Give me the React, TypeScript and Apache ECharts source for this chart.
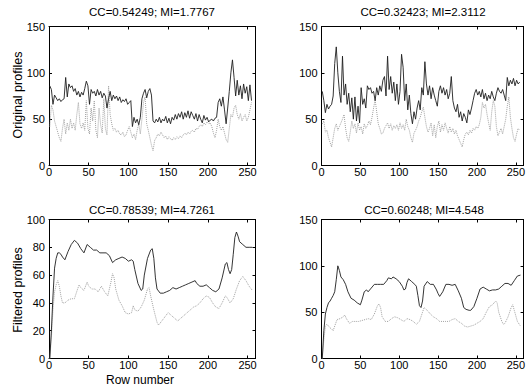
import React, { useEffect, useRef } from 'react';
import * as echarts from 'echarts';

// Row numbers for the sampled original (noisy) profiles
const rowsOdd: number[] = Array.from({ length: 128 }, (_, i) => 1 + 2 * i);

// Panel 1 (top-left) original profiles
const tlSolid = [
  86, 82, 66, 76, 73, 70, 72, 69, 71, 72, 95, 74, 88, 84, 86, 80,
  83, 76, 80, 74, 79, 76, 83, 91, 86, 66, 82, 78, 80, 75, 82, 76,
  80, 73, 78, 75, 62, 72, 80, 70, 76, 72, 75, 70, 74, 68, 71, 69,
  72, 66, 68, 70, 42, 52, 46, 50, 44, 52, 72, 78, 82, 73, 80, 83,
  76, 48, 46, 50, 47, 52, 46, 50, 48, 53, 46, 51, 45, 52, 49, 55,
  50, 56, 52, 58, 50, 57, 52, 59, 51, 58, 54, 50, 56, 48, 55, 50,
  46, 54, 49, 52, 47, 49, 50, 48, 51, 52, 68, 72, 64, 74, 60, 45,
  62, 80, 100, 114, 95, 75, 92, 76, 86, 72, 88, 78, 85, 70, 87, 70,
];
const tlDotted = [
  42, 65, 60, 48, 42, 36, 30, 26, 40, 50, 34, 46, 38, 50, 40, 46,
  38, 55, 68, 45, 40, 46, 38, 70, 40, 34, 62, 48, 70, 38, 30, 62,
  44, 35, 72, 40, 33, 86, 55, 45, 38, 40, 36, 38, 34, 33, 36, 31,
  33, 38, 42, 36, 30, 34, 28, 38, 45, 34, 50, 68, 74, 45, 38, 30,
  22, 16, 27, 30, 34, 32, 36, 33, 30, 32, 28, 31, 29, 27, 30, 28,
  31, 29, 32, 30, 33, 35, 33, 36, 34, 37, 38, 36, 40, 39, 42, 44,
  42, 46, 44, 47, 45, 46, 42, 35, 30, 38, 50, 42, 38, 42, 35, 28,
  25, 40, 55, 52, 62, 65, 55, 50, 56, 48, 52, 55, 48, 52, 60, 68,
];

// Panel 2 (top-right) original profiles
const trSolid = [
  80, 70, 57, 66, 61, 64, 66, 75, 110, 128, 100, 80, 68, 118, 76, 88,
  66, 78, 58, 73, 50, 74, 48, 64, 46, 84, 66, 72, 62, 86, 82, 84,
  78, 80, 70, 84, 76, 86, 80, 92, 96, 75, 118, 82, 96, 78, 90, 70,
  88, 66, 80, 120, 106, 70, 88, 60, 76, 56, 45, 58, 50, 62, 70, 60,
  84, 76, 112, 88, 76, 86, 72, 84, 76, 70, 64, 80, 86, 78, 84, 76,
  82, 72, 78, 96, 70, 62, 58, 66, 52, 58, 48, 56, 52, 46, 60, 55,
  62, 70, 78, 82, 76, 80, 74, 82, 72, 78, 70, 76, 72, 80, 74, 70,
  78, 84, 80, 78, 82, 76, 70, 95, 86, 92, 88, 94, 86, 92, 88, 90,
];
const trDotted = [
  45, 48, 36, 38, 30, 25, 20, 30, 40, 45, 38, 42, 46, 50, 55, 40,
  30, 26, 36, 48, 40, 45, 35, 46, 38, 42, 34, 45, 40, 43, 48, 44,
  52, 62, 71, 58, 45, 40, 34, 35, 40, 43, 46, 40, 45, 38, 43, 40,
  44, 38, 46, 40, 44, 38, 50, 42, 38, 30, 25, 35, 38, 42, 48, 52,
  58, 63, 52, 42, 36, 40, 46, 32, 44, 30, 42, 48, 36, 44, 38, 46,
  40, 35, 42, 36, 40, 34, 38, 32, 28, 24, 20, 28, 34, 36, 33, 38,
  35, 40, 38, 42, 40, 44, 52, 68, 62, 66, 55, 46, 38, 58, 70, 64,
  42, 32, 36, 40, 34, 42, 50, 64, 74, 52, 40, 30, 26, 34, 40, 38,
];

// Panel 3 (bottom-left) filtered profiles
const blSolidX = [1, 3, 5, 7, 9, 11, 13, 15, 17, 20, 24, 28, 32, 36, 40, 44, 48, 52, 56, 60, 64, 68, 72, 76, 80, 84, 88, 92, 96, 100, 104, 106, 108, 112, 116, 118, 120, 124, 128, 130, 132, 134, 136, 140, 144, 148, 152, 156, 160, 164, 168, 172, 176, 180, 184, 186, 190, 194, 198, 202, 206, 210, 214, 218, 222, 224, 226, 228, 230, 232, 234, 236, 238, 240, 244, 248, 252, 256];
const blSolidY = [0, 20, 45, 65, 72, 76, 76, 75, 73, 71, 77, 82, 85, 83, 79, 76, 82, 80, 78, 78, 76, 76, 76, 74, 69, 71, 72, 73, 72, 70, 71, 70, 64, 54, 49, 50, 60, 72, 78, 79, 72, 58, 50, 47, 47, 48, 49, 51, 50, 51, 52, 53, 54, 55, 56, 54, 52, 52, 53, 51, 49, 48, 50, 58, 68, 69, 64, 61, 64, 75, 87, 91, 88, 84, 82, 80, 80, 80];
const blDottedX = [1, 3, 5, 7, 9, 11, 13, 15, 17, 20, 24, 28, 32, 36, 38, 40, 44, 48, 50, 54, 58, 62, 66, 70, 74, 78, 80, 82, 84, 88, 92, 96, 100, 104, 106, 108, 112, 116, 120, 124, 126, 128, 132, 136, 138, 142, 146, 150, 154, 158, 162, 166, 170, 174, 178, 182, 186, 190, 194, 198, 202, 206, 210, 214, 218, 222, 224, 228, 232, 236, 240, 244, 248, 252, 256];
const blDottedY = [0, 15, 35, 48, 53, 56, 52, 45, 40, 40, 42, 43, 43, 50, 53, 51, 49, 55, 52, 50, 50, 48, 52, 48, 45, 55, 61, 58, 50, 42, 38, 33, 32, 33, 38, 35, 34, 37, 42, 50, 51, 45, 35, 26, 24, 27, 30, 33, 31, 29, 27, 29, 31, 33, 35, 37, 38, 40, 43, 45, 44, 40, 37, 36, 40, 45, 44, 40, 43, 50, 56, 59, 56, 52, 49];

// Panel 4 (bottom-right) filtered profiles
const brSolidX = [1, 3, 5, 7, 9, 11, 13, 15, 17, 19, 21, 23, 25, 28, 31, 34, 38, 42, 46, 50, 52, 55, 58, 60, 64, 68, 72, 76, 80, 84, 86, 90, 92, 96, 100, 104, 106, 108, 110, 112, 116, 120, 122, 124, 126, 128, 130, 132, 136, 140, 144, 148, 150, 152, 156, 160, 164, 168, 172, 176, 180, 183, 186, 190, 192, 196, 200, 204, 208, 212, 216, 220, 224, 228, 232, 236, 240, 244, 248, 252, 256];
const brSolidY = [0, 30, 48, 55, 60, 62, 65, 68, 72, 85, 100, 95, 88, 85, 80, 72, 65, 63, 60, 58, 63, 72, 74, 72, 76, 80, 80, 80, 80, 84, 87, 86, 88, 86, 83, 78, 74, 75, 82, 86, 83, 80, 78, 68, 57, 55, 62, 78, 83, 80, 80, 74, 70, 67, 72, 80, 80, 79, 80, 73, 65, 55, 53, 52, 52, 56, 65, 75, 77, 75, 73, 74, 74, 75, 78, 81, 81, 79, 84, 89, 90];
const brDottedX = [1, 3, 5, 7, 9, 11, 13, 15, 17, 20, 24, 28, 30, 32, 36, 40, 44, 48, 52, 56, 60, 64, 68, 72, 74, 76, 78, 82, 86, 90, 94, 98, 102, 106, 110, 114, 118, 122, 126, 130, 132, 136, 140, 144, 148, 152, 156, 160, 164, 168, 172, 176, 180, 184, 188, 192, 196, 200, 204, 208, 212, 216, 220, 224, 226, 228, 232, 234, 236, 240, 244, 246, 248, 252, 256];
const brDottedY = [0, 20, 35, 37, 35, 33, 32, 30, 35, 42, 43, 45, 47, 43, 38, 40, 40, 40, 41, 42, 43, 42, 48, 57, 59, 55, 45, 40, 40, 43, 45, 44, 42, 40, 43, 42, 40, 37, 40, 50, 55, 52, 48, 45, 43, 40, 40, 40, 40, 42, 43, 40, 38, 35, 34, 35, 36, 38, 40, 43, 50, 56, 58, 62, 60, 50, 40, 37, 38, 45, 55, 58, 52, 40, 35];

const titles = ['CC=0.54249; MI=1.7767', 'CC=0.32423; MI=2.3112', 'CC=0.78539; MI=4.7261', 'CC=0.60248; MI=4.548'];
const xTicks = [0, 50, 100, 150, 200, 250];
const yMaxes = [150, 150, 100, 150];
const yIntervals = [50, 50, 20, 50];

const FONT = '"Liberation Sans", Arial, Helvetica, sans-serif';

function pairs(xs: number[], ys: number[]) {
  return xs.map((x, i) => [x, ys[i]]);
}

export default function App() {
  const ref = useRef<HTMLDivElement>(null);
  useEffect(() => {
    if (!ref.current) return;
    const chart = echarts.init(ref.current, null, { renderer: 'svg' });
    const grids = [
      { left: 49, top: 26.5, width: 206.5, height: 139 },
      { left: 321.5, top: 26.5, width: 206, height: 139 },
      { left: 49, top: 219.5, width: 206.5, height: 139 },
      { left: 321.5, top: 219.5, width: 206, height: 139 },
    ];
    const line = { color: '#000', width: 1 };
    const xAxis: any[] = [];
    const yAxis: any[] = [];
    grids.forEach((_, g) => {
      const common = {
        type: 'value', gridIndex: g, min: 0, max: 260, interval: 50,
        axisLine: { show: true, onZero: false, lineStyle: line },
        axisTick: { show: true, inside: true, length: 3, lineStyle: line },
        splitLine: { show: false },
      };
      xAxis.push({
        ...common, position: 'bottom',
        axisLabel: {
          show: true, color: '#000', fontSize: 11, fontFamily: FONT, margin: 1,
          formatter: (v: number) => (xTicks.indexOf(v) >= 0 ? String(v) : ''),
        },
      });
      xAxis.push({ ...common, position: 'top', axisLabel: { show: false } });
      const yc = {
        type: 'value', gridIndex: g, min: 0, max: yMaxes[g], interval: yIntervals[g],
        axisLine: { show: true, onZero: false, lineStyle: line },
        axisTick: { show: true, inside: true, length: 3, lineStyle: line },
        splitLine: { show: false },
      };
      yAxis.push({ ...yc, position: 'left', axisLabel: { show: true, color: '#000', fontSize: 11, fontFamily: FONT, margin: 4 } });
      yAxis.push({ ...yc, position: 'right', axisLabel: { show: false } });
    });
    const solid = { color: '#1e1e1e', width: 0.9 };
    const dotted = { color: '#a3a3a3', width: 1, type: 'dotted' };
    const seriesData = [
      [pairs(rowsOdd, tlSolid), pairs(rowsOdd, tlDotted)],
      [pairs(rowsOdd, trSolid), pairs(rowsOdd, trDotted)],
      [pairs(blSolidX, blSolidY), pairs(blDottedX, blDottedY)],
      [pairs(brSolidX, brSolidY), pairs(brDottedX, brDottedY)],
    ];
    const series: any[] = [];
    seriesData.forEach((pair, g) => {
      series.push({
        type: 'line', xAxisIndex: 2 * g, yAxisIndex: 2 * g, data: pair[1], showSymbol: false,
        lineStyle: dotted, clip: true, silent: true,
      });
      series.push({
        type: 'line', xAxisIndex: 2 * g, yAxisIndex: 2 * g, data: pair[0], showSymbol: false,
        lineStyle: solid, clip: true, silent: true,
      });
    });
    const txt = (text: string, x: number, y: number, size: number, rot = 0) => ({
      type: 'text', x, y, rotation: rot,
      style: {
        text, fill: '#000', fontSize: size, fontFamily: FONT,
        align: 'center', verticalAlign: 'middle', textAlign: 'center', textVerticalAlign: 'middle',
      },
    });
    const graphic = [
      txt(titles[0], 152, 12, 11.5),
      txt(titles[1], 423, 12, 11.5),
      txt(titles[2], 152, 210, 11.5),
      txt(titles[3], 424, 210, 11.5),
      txt('Original profiles', 18, 95, 12.5, Math.PI / 2),
      txt('Filtered profiles', 18, 290, 12.5, Math.PI / 2),
      txt('Row number', 140, 379.5, 12),
    ];
    chart.setOption({
      animation: false,
      backgroundColor: '#fff',
      grid: grids.map((g) => ({ ...g, containLabel: false })),
      xAxis, yAxis, series, graphic,
    });
    return () => chart.dispose();
  }, []);
  return <div ref={ref} style={{ position: 'fixed', left: 0, top: 0, width: 528, height: 385 }} />;
}
